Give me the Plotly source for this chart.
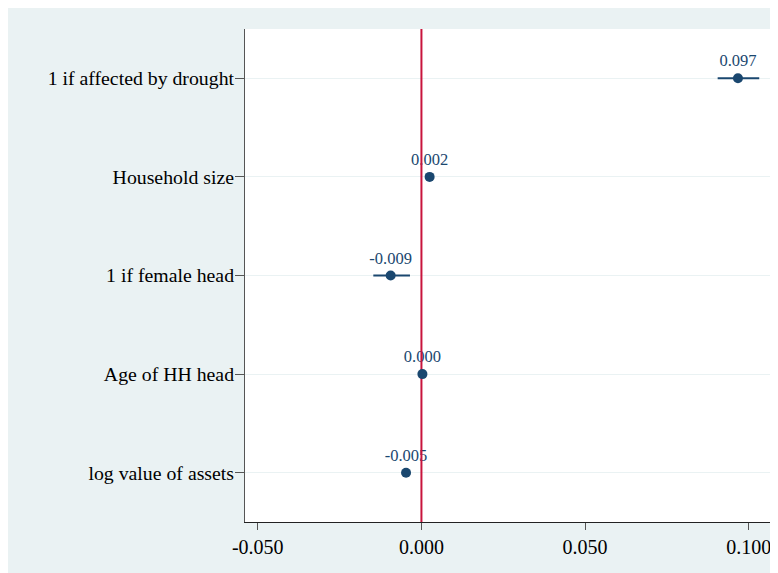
import plotly.graph_objects as go

variables = ["1 if affected by drought", "Household size", "1 if female head",
             "Age of HH head", "log value of assets"]
coef = [0.0967, 0.0025, -0.0094, 0.0003, -0.0047]
ci_low = [0.0905, 0.0020, -0.0147, -0.0001, -0.0055]
ci_high = [0.1032, 0.0030, -0.0035, 0.0007, -0.0039]
labels = ["0.097", "0.002", "-0.009", "0.000", "-0.005"]
xtick_vals = [-0.05, 0.0, 0.05, 0.10]
xtick_text = ["-0.050", "0.000", "0.050", "0.100"]

NAVY = "#1A476F"
BG = "#EAF2F3"
RED = "#C8143C"
FONT = "Liberation Serif, Times New Roman, serif"

ypos = list(range(len(variables)))

fig = go.Figure()

# coefficient labels (drawn below the zero line)
fig.add_trace(go.Scatter(
    x=coef, y=ypos, mode="markers+text", text=labels, textposition="top center",
    marker=dict(size=11, opacity=0),
    textfont=dict(family=FONT, size=16.5, color=NAVY), hoverinfo="skip",
    showlegend=False,
))

# zero reference line
fig.add_trace(go.Scatter(
    x=[0, 0], y=[-0.5, len(variables) - 0.5], mode="lines",
    line=dict(color=RED, width=2), hoverinfo="skip", showlegend=False,
))

# markers with CI
fig.add_trace(go.Scatter(
    x=coef, y=ypos, mode="markers",
    marker=dict(color=NAVY, size=10),
    error_x=dict(type="data", symmetric=False,
                 array=[h - c for h, c in zip(ci_high, coef)],
                 arrayminus=[c - l for c, l in zip(coef, ci_low)],
                 color=NAVY, thickness=2, width=0),
    showlegend=False,
))

fig.update_layout(
    width=778, height=573,
    margin=dict(l=237, r=14, t=21, b=59, pad=0),
    paper_bgcolor=BG, plot_bgcolor="white",
    font=dict(family=FONT, size=20, color="black"),
    xaxis=dict(range=[-0.0539, 0.1071], tickvals=xtick_vals, ticktext=xtick_text,
               showgrid=False, zeroline=False, showline=True, linecolor="#222",
               linewidth=1, ticks="outside", ticklen=7, tickcolor="#555",
               tickfont=dict(family=FONT, size=20, color="black")),
    yaxis=dict(range=[len(variables) - 0.5, -0.5], tickvals=ypos, ticktext=variables,
               showgrid=True, gridcolor=BG, gridwidth=1, zeroline=False,
               showline=True, linecolor="#555", linewidth=1, ticks="outside",
               ticklen=9, tickcolor="#555", ticklabelstandoff=-3,
               tickfont=dict(family=FONT, size=19.8, color="black")),
)

fig.write_html("out.html")
